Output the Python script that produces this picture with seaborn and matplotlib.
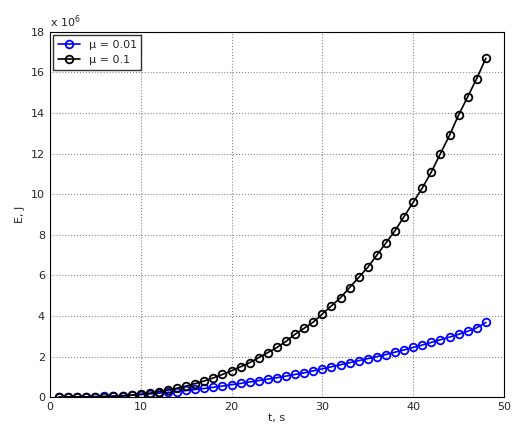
import numpy as np
import pandas as pd
import matplotlib
matplotlib.use("Agg")
import matplotlib.pyplot as plt
import seaborn as sns

t = list(range(1, 49))
# energy in units of 1e6 J
e_001 = [0.005, 0.01, 0.015, 0.02, 0.03, 0.04, 0.06, 0.08, 0.10, 0.13,
         0.16, 0.20, 0.24, 0.28, 0.33, 0.38, 0.43, 0.49, 0.55, 0.62,
         0.68, 0.75, 0.82, 0.89, 0.96, 1.04, 1.12, 1.20, 1.30, 1.40,
         1.50, 1.60, 1.70, 1.80, 1.90, 2.00, 2.10, 2.22, 2.33, 2.45,
         2.57, 2.70, 2.83, 2.96, 3.10, 3.25, 3.42, 3.68]
e_01 = [0.005, 0.01, 0.01, 0.015, 0.02, 0.025, 0.035, 0.06, 0.10, 0.14,
        0.20, 0.27, 0.35, 0.44, 0.55, 0.67, 0.80, 0.95, 1.12, 1.30,
        1.50, 1.70, 1.95, 2.20, 2.45, 2.75, 3.10, 3.40, 3.70, 4.10,
        4.50, 4.90, 5.40, 5.90, 6.40, 7.00, 7.60, 8.20, 8.90, 9.60,
        10.3, 11.1, 12.0, 12.9, 13.9, 14.8, 15.7, 16.7]

df = pd.DataFrame({"t": t * 2, "E": e_001 + e_01,
                   "mu": ["μ = 0.01"] * 48 + ["μ = 0.1"] * 48})

sns.set_style("white")
plt.rcParams["font.family"] = ["DejaVu Sans"]
fig = plt.figure(figsize=(5.25, 4.36), dpi=100)
ax = fig.add_axes([0.095, 0.089, 0.865, 0.838])
sns.lineplot(data=df, x="t", y="E", hue="mu", palette=["#0000ff", "#000000"],
             marker="o", markerfacecolor="none", markeredgewidth=1.3,
             markersize=5.5, linewidth=1.2, ax=ax)
for l in ax.lines:
    l.set_markeredgecolor(l.get_color())
ax.set_xlim(0, 50)
ax.set_ylim(0, 18)
ax.set_xticks(range(0, 51, 10))
ax.set_yticks(range(0, 19, 2))
ax.grid(True, linestyle=":", color="#888888", linewidth=0.8)
ax.tick_params(labelsize=8, direction="in", length=3)
for s in ax.spines.values():
    s.set_color("black")
ax.set_xlabel("t, s", fontsize=8, labelpad=1)
ax.set_ylabel("E, J", fontsize=8)
ax.text(0, 1.005, r"x 10$^6$", transform=ax.transAxes, fontsize=8, va="bottom")
leg = ax.legend(loc="upper left", fontsize=8, frameon=True, fancybox=False,
                edgecolor="black", borderaxespad=0.3)
for h in leg.get_lines():
    h.set_markeredgecolor(h.get_color())
    h.set_markerfacecolor("none")
fig.savefig("out.png", dpi=100)
